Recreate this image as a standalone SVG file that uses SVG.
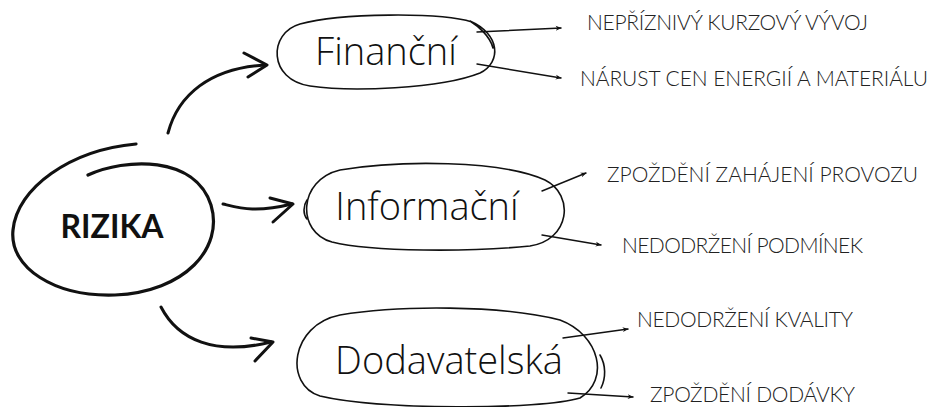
<svg xmlns="http://www.w3.org/2000/svg" width="935" height="407" viewBox="0 0 935 407">
<defs>
<marker id="ah" viewBox="0 0 10 10" refX="9" refY="5" markerWidth="6" markerHeight="6" orient="auto" markerUnits="userSpaceOnUse">
<path d="M0,1 L10,5 L0,9 L3,5 Z" fill="#111"/>
</marker>
<style>
.node{fill:none;stroke:#111;stroke-width:1.6;stroke-linecap:round;stroke-linejoin:round}
.big{fill:none;stroke:#111;stroke-width:3;stroke-linecap:round;stroke-linejoin:round}
.thin{fill:none;stroke:#111;stroke-width:1.4;stroke-linecap:round}
.main{font-family:"Lato","Liberation Sans",sans-serif;font-weight:bold;font-size:32px;fill:#111}
.cat{font-family:"Open Sans","Liberation Sans",sans-serif;font-weight:300;font-size:38px;fill:#111}
.lbl{font-family:"Lato","Open Sans","Liberation Sans",sans-serif;font-weight:300;font-size:21px;fill:#222}
</style>
</defs>
<rect width="935" height="407" fill="#fff"/>
<g id="rizika">
<path d="M88,175 C125,158 195,155 211,205 C224,248 185,292 115,295 C55,297 9,268 13,230 C17,188 70,150 136,144" fill="none" stroke="#111" stroke-width="3.2" stroke-linecap="round"/>
<text class="main" x="112" y="238" text-anchor="middle">RIZIKA</text>
</g>
<g id="financni">
<path class="node" d="M472,22 C440,12 340,13 300,24 C268,33 268,80 310,86 C350,92 440,89 480,73 C502,62 500,34 470,21 C478,26 490,36 493,48"/>
<text class="cat" x="386" y="65" text-anchor="middle">Finanční</text>
</g>
<g id="informacni">
<path class="node" d="M545,180 C500,160 400,160 340,170 C298,180 296,232 332,242 C372,252 470,252 530,246 C570,240 575,195 545,180"/>
<path class="node" d="M307,200 C303,206 303,214 307,219"/>
<text class="cat" x="427" y="220" text-anchor="middle">Informační</text>
</g>
<g id="dodavatelska">
<path class="node" d="M560,320 C500,305 400,305 340,315 C290,325 284,385 320,396 C380,410 540,410 580,398 C610,380 600,335 560,320"/>
<path class="node" d="M600,355 C606,365 606,378 601,388"/>
<text class="cat" x="449" y="374" text-anchor="middle">Dodavatelská</text>
</g>
<g id="l1"><text class="lbl" x="587" y="30" textLength="281">NEPŘÍZNIVÝ KURZOVÝ VÝVOJ</text></g>
<g id="l2"><text class="lbl" x="580" y="86" textLength="348">NÁRUST CEN ENERGIÍ A MATERIÁLU</text></g>
<g id="l3"><text class="lbl" x="607" y="182" textLength="311">ZPOŽDĚNÍ ZAHÁJENÍ PROVOZU</text></g>
<g id="l4"><text class="lbl" x="622" y="253" textLength="241">NEDODRŽENÍ PODMÍNEK</text></g>
<g id="l5"><text class="lbl" x="637" y="327" textLength="216">NEDODRŽENÍ KVALITY</text></g>
<g id="l6"><text class="lbl" x="650" y="402" textLength="205">ZPOŽDĚNÍ DODÁVKY</text></g>
<g id="connectors">
<path class="big" d="M168,133 C178,95 210,68 265,65"/>
<path class="big" d="M244,53 L267,65 L248,77"/>
<path class="big" d="M223,204 C240,208 255,213 292,204"/>
<path class="big" d="M270,198 L293,204 L273,222"/>
<path class="big" d="M161,307 C178,340 215,356 271,342"/>
<path class="big" d="M251,338 L273,342 L255,361"/>
<path class="thin" d="M477,32 L561,28" marker-end="url(#ah)"/>
<path class="thin" d="M477,64 L561,78" marker-end="url(#ah)"/>
<path class="thin" d="M542,191 L586,173" marker-end="url(#ah)"/>
<path class="thin" d="M542,235 L601,245" marker-end="url(#ah)"/>
<path class="thin" d="M563,338 L628,329" marker-end="url(#ah)"/>
<path class="thin" d="M568,393 L633,397" marker-end="url(#ah)"/>
</g>
</svg>
